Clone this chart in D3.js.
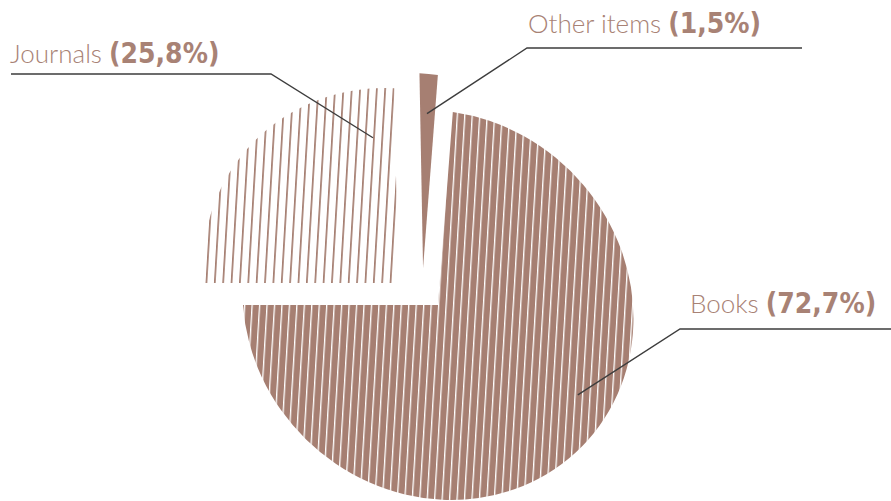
<!DOCTYPE html>
<html><head><meta charset="utf-8">
<script src="https://cdn.jsdelivr.net/npm/d3@7"></script>
<style>
html,body{margin:0;padding:0;background:#fff;}
svg{display:block;}
</style></head>
<body>
<svg id="chart" width="891" height="501"></svg>
<script>
// ---- data ----
const categories = ["Books", "Journals", "Other items"];
const shares = [72.7, 25.8, 1.5];
const shareLabels = ["(72,7%)", "(25,8%)", "(1,5%)"];

// ---- style / layout ----
const W = 891, H = 501;
const brown = "#a67f72";
const textCol = "#a88275";
const lineCol = "#3d3d3d";
const R = 195;
const cx = 438, cy = 305;
const skewDeg = 3.95;
const t = Math.tan(skewDeg * Math.PI / 180);
const startDeg = 8.3;
// per-slice explode offsets (local coords) and patterns
const offsets = [[0, 0], [-38.5, -22], [-12.4, -37]];
const fills = ["url(#hatchBooks)", "url(#hatchJournals)", brown];
// leader anchor inside slice: [angle deg, radius]
const anchors = [[123.9, 161], [354.1, 146], [5.4, 155]];
// label layout: elbow point, horizontal end, text x, baseline
const labelLayout = [
  {elbow: [680, 329], hEnd: 891, tx: 690, ty: 313},
  {elbow: [271, 74], hEnd: 11, tx: 10, ty: 63},
  {elbow: [527, 48], hEnd: 802, tx: 528, ty: 33}
];

const svg = d3.select("#chart");
const defs = svg.append("defs");

const pb = defs.append("pattern").attr("id", "hatchBooks")
  .attr("patternUnits", "userSpaceOnUse").attr("width", 7.4).attr("height", 20)
  .attr("patternTransform", `rotate(${startDeg - 1})`);
pb.append("rect").attr("width", 7.4).attr("height", 20).attr("fill", brown);
pb.append("rect").attr("x", 0).attr("width", 1.3).attr("height", 20).attr("fill", "#fff");

const pj = defs.append("pattern").attr("id", "hatchJournals")
  .attr("patternUnits", "userSpaceOnUse").attr("width", 8.3).attr("height", 20)
  .attr("patternTransform", `rotate(${startDeg - 1})`);
pj.append("rect").attr("width", 8.3).attr("height", 20).attr("fill", "#fff");
pj.append("rect").attr("x", 0).attr("width", 1.7).attr("height", 20).attr("fill", brown);

const toRad = d => d * Math.PI / 180;
const pie = d3.pie().sort(null).value(d => d)
  .startAngle(toRad(startDeg)).endAngle(toRad(startDeg) + 2 * Math.PI);
const arcs = pie(shares);
const arc = d3.arc().innerRadius(0).outerRadius(R);

const g = svg.append("g").attr("transform", `translate(${cx},${cy}) skewX(${skewDeg})`);
g.selectAll("path.slice").data(arcs).join("path")
  .attr("class", "slice")
  .attr("transform", (d, i) => `translate(${offsets[i][0]},${offsets[i][1]})`)
  .attr("d", arc)
  .attr("fill", (d, i) => fills[i]);

// local -> screen
function toScreen(x, y) { return [cx + x + t * y, cy + y]; }

const leaders = svg.append("g");
arcs.forEach((d, i) => {
  const a = toRad(anchors[i][0]), r = anchors[i][1];
  const lx = offsets[i][0] + r * Math.sin(a), ly = offsets[i][1] - r * Math.cos(a);
  const p = toScreen(lx, ly);
  const L = labelLayout[i];
  leaders.append("polyline")
    .attr("points", [p, L.elbow, [L.hEnd, L.elbow[1]]].map(q => q.join(",")).join(" "))
    .attr("fill", "none").attr("stroke", lineCol).attr("stroke-width", 1.4);
  const tx = svg.append("text").attr("x", L.tx).attr("y", L.ty)
    .attr("fill", textCol);
  tx.append("tspan").attr("font-family", "Lato, 'Open Sans', sans-serif")
    .attr("font-size", 26).attr("font-weight", 300).text(categories[i] + " ");
  tx.append("tspan").attr("font-family", "'DejaVu Sans Condensed', 'DejaVu Sans', sans-serif")
    .attr("font-stretch", "condensed")
    .attr("font-size", 28).attr("font-weight", 700).text(shareLabels[i]);
});
</script>
</body></html>
